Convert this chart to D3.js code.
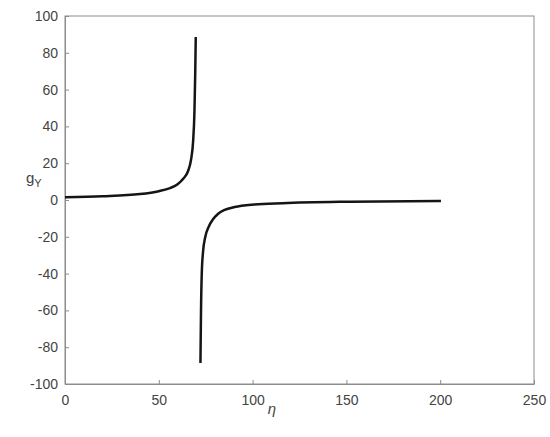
<!DOCTYPE html>
<html>
<head>
<meta charset="utf-8">
<script src="https://cdn.jsdelivr.net/npm/d3@7"></script>
<style>
  body { margin: 0; background: #fff; }
  text { font-family: "Liberation Sans", Arial, sans-serif; }
</style>
</head>
<body>
<div id="chart"></div>
<script>
// curve values (two branches either side of the pole)
var etaLeft = [0, 20, 40, 50, 56, 60, 63, 65.5, 67.2, 68.3, 69, 69.4, 69.7];
var gLeft   = [1.5, 2.0, 3.2, 4.8, 6.5, 8.5, 11.5, 15.5, 22, 32, 48, 68, 88.6];
var etaRight = [72.2, 72.5, 72.9, 73.6, 74.8, 76.6, 78.9, 81.5, 85.1, 90.4, 101, 116, 151.6, 200.4];
var gRight   = [-88.6, -60, -40, -28, -20, -14.5, -10.5, -7.6, -5.4, -3.8, -2.4, -1.7, -0.9, -0.5];
var xTicks = [0, 50, 100, 150, 200, 250];
var yTicks = [-100, -80, -60, -40, -20, 0, 20, 40, 60, 80, 100];

var margin = { top: 16, right: 16, bottom: 53, left: 65 },
    width = 550 - margin.left - margin.right,
    height = 437 - margin.top - margin.bottom;

var x = d3.scaleLinear().domain([0, 250]).range([0, width]);
var y = d3.scaleLinear().domain([-100, 100]).range([height, 0]);

var svg = d3.select("#chart").append("svg")
    .attr("width", 550)
    .attr("height", 437)
    .append("g")
    .attr("transform", "translate(" + margin.left + "," + margin.top + ")");

// box
svg.append("rect")
    .attr("width", width)
    .attr("height", height)
    .attr("fill", "none")
    .attr("stroke", "#8c8c8c")
    .attr("stroke-width", 1);

// plain hyphen for negatives, like the original
var fmt = function (d) { return String(d); };

// x axis
var xAxis = svg.append("g")
    .attr("transform", "translate(0," + height + ")")
    .call(d3.axisBottom(x).tickValues(xTicks).tickFormat(fmt).tickSizeInner(-4).tickSizeOuter(0).tickPadding(11));
// y axis
var yAxis = svg.append("g")
    .call(d3.axisLeft(y).tickValues(yTicks).tickFormat(fmt).tickSizeInner(-4).tickSizeOuter(0).tickPadding(7));

[xAxis, yAxis].forEach(function (a) {
    a.select(".domain").attr("stroke", "#8c8c8c");
    a.selectAll(".tick line").attr("stroke", "#8c8c8c");
    a.selectAll(".tick text")
        .attr("fill", "#444")
        .style("font-size", "14px")
        .style("font-family", '"Liberation Sans", Arial, sans-serif');
});

// curve
var line = d3.line()
    .x(function (d) { return x(d[0]); })
    .y(function (d) { return y(d[1]); })
    .curve(d3.curveMonotoneX);

[[etaLeft, gLeft], [etaRight, gRight]].forEach(function (s) {
    svg.append("path")
        .datum(d3.zip(s[0], s[1]))
        .attr("d", line)
        .attr("fill", "none")
        .attr("stroke", "#151515")
        .attr("stroke-width", 2.5);
});

// axis labels
svg.append("text")
    .attr("x", 207)
    .attr("y", 398)
    .attr("text-anchor", "middle")
    .style("font-size", "15px")
    .style("font-style", "italic")
    .attr("fill", "#444")
    .text("η");

var yl = svg.append("text")
    .attr("x", -39)
    .attr("y", 167)
    .style("font-size", "15px")
    .attr("fill", "#444");
yl.append("tspan").text("g");
yl.append("tspan").attr("dy", 4).style("font-size", "11px").text("Y");
</script>
</body>
</html>
